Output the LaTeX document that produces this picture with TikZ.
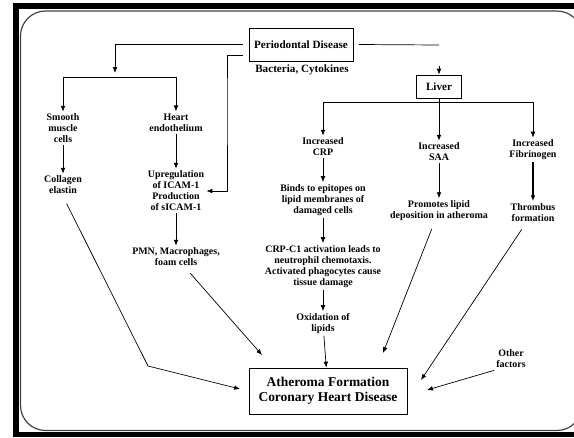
\documentclass[tikz,border=0pt]{standalone}
\usepackage{fontspec}
\setmainfont{Liberation Serif}
\usetikzlibrary{arrows.meta, positioning}

\begin{document}
\begin{tikzpicture}[x=0.03cm, y=-0.03cm,
  txt/.style={align=center, inner sep=0pt, outer sep=2pt, font=\fontsize{8.5}{9.4}\selectfont\bfseries},
  hbox/.style={draw, line width=0.8pt, align=center, inner sep=0pt, font=\fontsize{9.5}{11}\selectfont\bfseries},
  arr/.style={-{Latex[length=5pt,width=4pt]}, line width=0.6pt}]
  \useasboundingbox (0,0) rectangle (574,437);
  % frame
  \fill[black] (13,3) rectangle (574,9);
  \fill[black] (13,3) rectangle (19,437);
  \fill[black] (13,432) rectangle (574,437);
  \draw[black!75, line width=1pt, rounded corners=0.75cm] (20.5,11) rectangle (582,430.5);
  % boxes
  \node[hbox, minimum width=3.12cm, minimum height=0.99cm, outer xsep=5pt] (pd) at (301,44.5) {Periodontal Disease};
  \node[txt, font=\fontsize{9.5}{11}\selectfont\bfseries] (bact) at (302,70) {Bacteria, Cytokines};
  \node[hbox, minimum width=1.35cm, minimum height=0.69cm] (liver) at (439,86.5) {Liver};
  \node[hbox, minimum width=4.74cm, minimum height=1.38cm, font=\fontsize{11.5}{12.8}\selectfont\bfseries] (ath) at (328,391) {Atheroma Formation\\Coronary Heart Disease};
  % texts
  \node[txt] (smc) at (63,128.5) {Smooth\\muscle\\cells};
  \node[txt] (coll) at (63,185) {Collagen\\elastin};
  \node[txt] (heart) at (176,122.5) {Heart\\endothelium};
  \node[txt] (upreg) at (176,191) {Upregulation\\of ICAM-1\\Production\\of sICAM-1};
  \node[txt] (pmn) at (176,257) {PMN, Macrophages,\\foam cells};
  \node[txt] (crp) at (323,147) {Increased\\CRP};
  \node[txt] (binds) at (323,200) {Binds to epitopes on\\lipid membranes of\\damaged cells};
  \node[txt] (crpc) at (323,266.5) {CRP-C1 activation leads to\\neutrophil chemotaxis.\\Activated phagocytes cause\\tissue damage};
  \node[txt] (oxid) at (323,323.5) {Oxidation of\\lipids};
  \node[txt] (saa) at (439,152) {Increased\\SAA};
  \node[txt] (promo) at (439,210.5) {Promotes lipid\\deposition in atheroma};
  \node[txt] (fib) at (533,150) {Increased\\Fibrinogen};
  \node[txt] (thromb) at (533,212.5) {Thrombus\\formation};
  \node[txt] (other) at (511,359) {Other\\factors};
  % bends and free ends
  \coordinate (b1) at (115,73);
  \coordinate (b2) at (115,77);
  \coordinate (k2) at (227,100);
  \coordinate (lv1) at (439,45);
  \coordinate (lv2) at (439,66);
  \coordinate (lb) at (439,102);
  \coordinate (k1) at (148,366);
  \coordinate (e1) at (240,389);
  \coordinate (e2) at (262,355);
  \coordinate (e3) at (383,353);
  \coordinate (e4) at (421,380);
  \coordinate (e5) at (427,390);
  % connectors
  \draw[arr] (pd.west) -| (b1);
  \draw[arr] (b2) -| (smc.north);
  \draw[arr] (b2) -| (heart.north);
  \draw[arr] ([shift={(0,10.5)}]pd.west) -| (k2) |- (upreg.east);
  \draw[line width=0.6pt] (pd.east) -- (lv1);
  \draw[arr] (lv2) -- (liver.north);
  \draw[line width=0.6pt] (liver.south) -- (lb);
  \draw[arr] (lb) -| (crp.north);
  \draw[arr] (lb) -- (saa.north);
  \draw[arr] (lb) -| (fib.north);
  \draw[arr] (smc) -- (coll);
  \draw[arr] (heart) -- (upreg);
  \draw[arr] (upreg) -- (pmn);
  \draw[arr] (crp) -- (binds);
  \draw[arr] (binds) -- (crpc);
  \draw[arr] (crpc) -- (oxid);
  \draw[arr] (oxid) -- (ath);
  \draw[arr] (saa) -- (promo);
  \draw[arr, line width=1pt] (fib) -- (thromb);
  \draw[arr, shorten <=2.4mm] (coll.south) -- (k1) -- (e1);
  \draw[arr, shorten <=2mm] (pmn) -- (e2);
  \draw[arr, shorten <=2mm] (promo) -- (e3);
  \draw[arr, shorten <=2mm] (thromb) -- (e4);
  \draw[arr] (other.south west) -- (e5);
\end{tikzpicture}
\end{document}
